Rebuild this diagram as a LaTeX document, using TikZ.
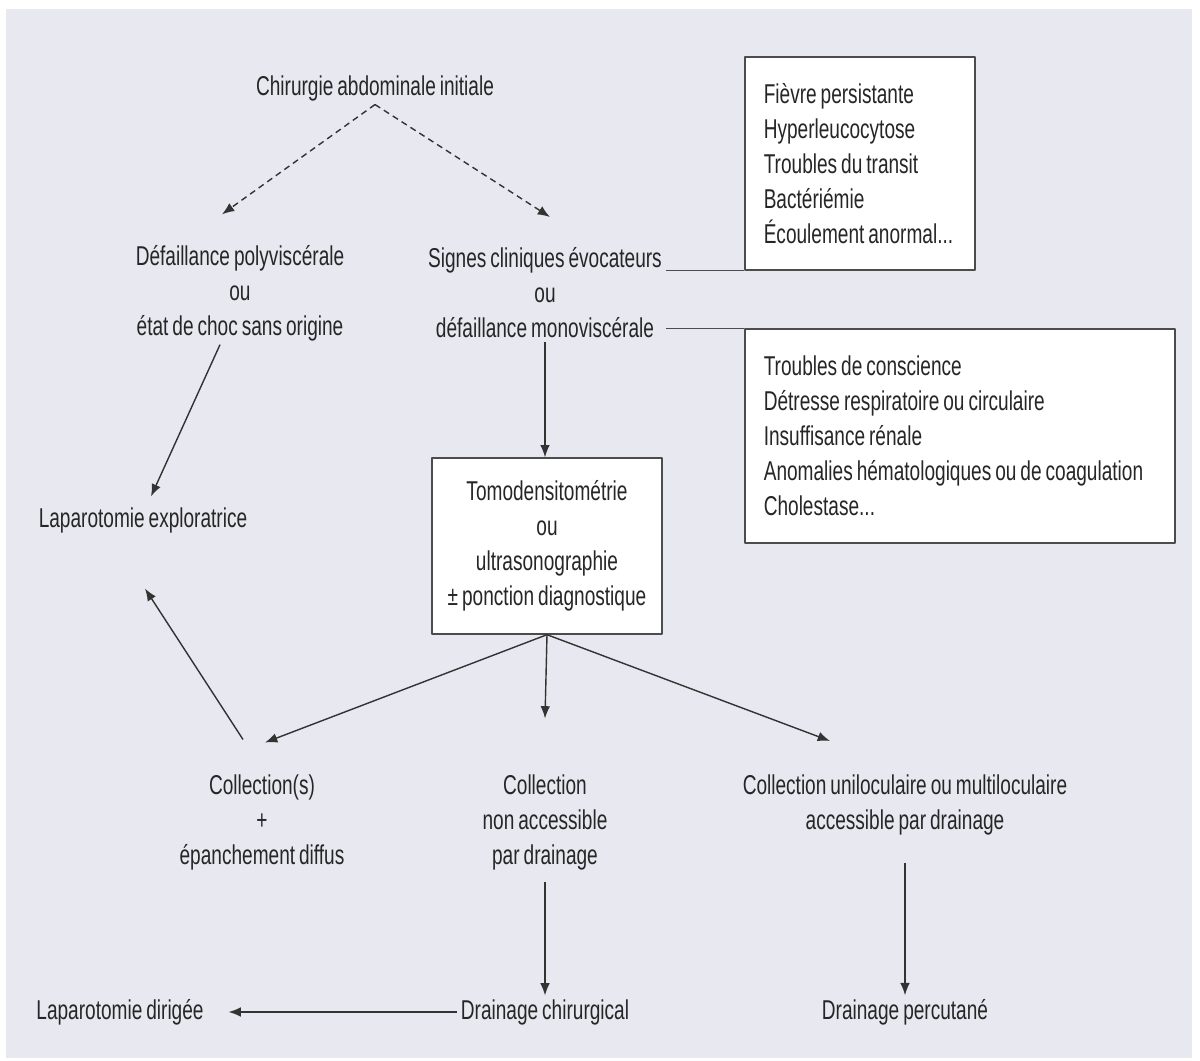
\documentclass[tikz,border=0pt]{standalone}
\usepackage{fontspec}
\setmainfont{Liberation Sans}[FakeStretch=0.7, WordSpace=0.75]
\usetikzlibrary{arrows.meta,calc}
\definecolor{fondgris}{RGB}{232,232,240}
\tikzset{>={Latex[length=7pt,width=5.5pt]}}

\begin{document}
\begin{tikzpicture}[x=0.02cm, y=-0.02cm, line join = round,
    every node/.style={font=\fontsize{15.5}{19.9}\selectfont, text=black!85},
    txt/.style={align=center, inner sep=2pt},
    cadre/.style={draw=black!70, line width=0.8pt, fill=white},
    fleche/.style={->, draw=black!80, line width=0.8pt}]
    \useasboundingbox (0,0) rectangle (1200,1061);
    \fill[fondgris] (6,9) rectangle (1192,1058);

    \node[txt] (chir) at (375,88) {Chirurgie abdominale initiale};
    \node[txt] (poly) at (240,293) {Défaillance polyviscérale\\ou\\état de choc sans origine};
    \node[txt] (signes) at (545,293) {Signes cliniques évocateurs\\ou\\défaillance monoviscérale};

    \node[cadre, align=flush left, text width=3.85cm, inner xsep=0.375cm, inner ysep=0pt,
          minimum height=4.26cm] (symp) at (860,163.5)
        {Fièvre persistante\\Hyperleucocytose\\Troubles du transit\\Bactériémie\\Écoulement anormal...};
    \node[cadre, align=flush left, text width=7.85cm, inner xsep=0.375cm, inner ysep=0pt,
          minimum height=4.28cm] (defail) at (960,436)
        {Troubles de conscience\\Détresse respiratoire ou circulaire\\Insuffisance rénale\\Anomalies hématologiques ou de coagulation\\Cholestase...};

    \node[cadre, align=flush center, text width=4.6cm, inner sep=0pt, minimum height=3.52cm] (tdm) at (547,546)
        {Tomodensitométrie\\ou\\ultrasonographie\\± ponction diagnostique};

    \node[txt] (lapexp) at (143,520) {Laparotomie exploratrice};

    \node[txt] (coll) at (262,822) {Collection(s)\\+\\épanchement diffus};
    \node[txt] (collna) at (545,822) {Collection\\non accessible\\par drainage};
    \node[txt] (collacc) at (905,805) {Collection uniloculaire ou multiloculaire\\accessible par drainage};

    \node[txt] (lapdir) at (120,1012) {Laparotomie dirigée};
    \node[txt] (drchir) at (545,1012) {Drainage chirurgical};
    \node[txt] (drperc) at (905,1012) {Drainage percutané};

    % traits vers les encadres
    \draw[draw=black!70, line width=0.9pt] (signes.east |- symp.south) -- (symp.south west);
    \draw[draw=black!70, line width=0.9pt] (signes.east |- defail.north) -- (defail.north west);

    \draw[fleche, dash pattern=on 3.5pt off 2.5pt] (chir.south) -- ($(poly.north)+(-18,-27)$);
    \draw[fleche, dash pattern=on 3.5pt off 2.5pt] (chir.south) -- ($(signes.north)+(5,-27)$);

    \draw[fleche] ($(poly.south)+(-20,0)$) -- ($(lapexp.north)+(8,-7)$);
    \draw[fleche] (signes.south) -- (signes.south |- tdm.north);

    \draw[fleche] (tdm.south) -- ($(coll.north)+(3,-28)$);
    \draw[fleche] (tdm.south) -- ($(collna.north)+(0,-52)$);
    \draw[fleche] (tdm.south) -- ($(collacc.north)+(-75,-30)$);

    \draw[fleche] ($(coll.north)+(-19,-31)$) -- ($(lapexp.south)+(2,52)$);

    \draw[fleche] ($(collna.south)+(0,8)$) -- (collna.south |- drchir.north);
    \draw[fleche] ($(collacc.south)+(0,24)$) -- (collacc.south |- drperc.north);
    \draw[fleche, shorten >=12pt] (drchir.west) -- (lapdir.east);

\end{tikzpicture}
\end{document}
